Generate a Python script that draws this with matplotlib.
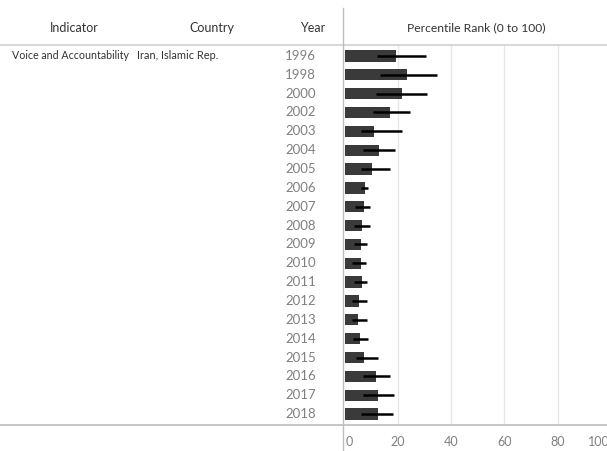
import numpy as np
import matplotlib
matplotlib.use('Agg')
import matplotlib.pyplot as plt
import matplotlib.transforms as mtrans

# Data
years = [1996, 1998, 2000, 2002, 2003, 2004, 2005, 2006, 2007, 2008,
         2009, 2010, 2011, 2012, 2013, 2014, 2015, 2016, 2017, 2018]
rank = [19.4, 23.3, 21.5, 17.2, 11.1, 12.9, 10.4, 7.8, 7.5, 6.7,
        6.3, 6.3, 6.7, 5.3, 4.9, 5.7, 7.5, 12.0, 12.5, 12.5]
rank_lo = [12.2, 13.4, 11.9, 10.8, 6.1, 6.8, 6.1, 6.3, 3.9, 3.5,
           3.5, 2.8, 3.5, 2.8, 2.8, 3.2, 4.3, 7.1, 7.1, 6.1]
rank_hi = [30.5, 34.6, 30.9, 24.4, 21.5, 19.0, 17.2, 9.0, 9.4, 9.4,
           8.6, 8.2, 8.6, 8.6, 8.6, 9.0, 12.5, 17.2, 18.6, 18.3]
xticks = [0, 20, 40, 60, 80, 100]
indicator = 'Voice and Accountability'
country = 'Iran, Islamic Rep.'

plt.rcParams['font.family'] = ['Lato', 'DejaVu Sans']

W, H = 607, 451
fig = plt.figure(figsize=(W / 100, H / 100), dpi=100)

def fx(px):
    return px / W

def fy(py):
    return 1 - py / H

# Plot area (x axis runs a bit past the right edge like the original)
x0, x100 = 344.5, 611.0
top, bottom = 45, 425
ax = fig.add_axes([fx(x0), fy(bottom), fx(x100 - x0), (bottom - top) / H])
pos = np.arange(len(years))
n = len(years)
ax.set_ylim(n - 0.42, -0.58)
ax.set_xlim(0, 100)
for v in xticks[1:]:
    ax.axvline(v, color='#e6e6e6', lw=0.9, zorder=0)
ax.barh(pos, rank, height=0.6, color='#3a3a3a', zorder=2)
ax.hlines(pos, rank_lo, rank_hi, color='black', lw=1.8, zorder=3)
for s in ax.spines.values():
    s.set_visible(False)
ax.set_yticks([])
ax.set_xticks(xticks)
ax.tick_params(axis='x', length=0, pad=8, labelsize=9, labelcolor='#808080')
# edge labels are pushed inward, like the original
labs = ax.get_xticklabels()
labs[0].set_transform(labs[0].get_transform() +
                      mtrans.ScaledTranslation(5 / 100, 0, fig.dpi_scale_trans))
labs[-1].set_transform(labs[-1].get_transform() +
                       mtrans.ScaledTranslation(-12 / 100, 0, fig.dpi_scale_trans))

# Table lines
fig.add_artist(plt.Line2D([0, 1], [fy(45), fy(45)], color='#cfcfcf', lw=1.2))
fig.add_artist(plt.Line2D([0, 1], [fy(425), fy(425)], color='#bdbdbd', lw=1.2))
fig.add_artist(plt.Line2D([fx(343), fx(343)], [fy(8), 0], color='#bdbdbd', lw=1.0))

# Headers
hy = fy(28)
fig.text(fx(74), hy, 'Indicator', ha='center', va='center', fontsize=9, color='#333333')
fig.text(fx(212), hy, 'Country', ha='center', va='center', fontsize=9, color='#333333')
fig.text(fx(325), hy, 'Year', ha='right', va='center', fontsize=9, color='#333333')
fig.text(fx(476), hy, 'Percentile Rank (0 to 100)', ha='center', va='center',
         fontsize=8.7, color='#333333')

# Row labels
trans = mtrans.blended_transform_factory(fig.transFigure, ax.transData)
ax.text(fx(12), 0, indicator, transform=trans, ha='left', va='center',
        fontsize=7.7, color='#333333')
ax.text(fx(137), 0, country, transform=trans, ha='left', va='center',
        fontsize=7.9, color='#333333')
for i, yr in enumerate(years):
    ax.text(fx(316), i, str(yr), transform=trans, ha='right', va='center',
            fontsize=9.5, color='#808080', clip_on=False)

fig.savefig('out.png', dpi=100)
